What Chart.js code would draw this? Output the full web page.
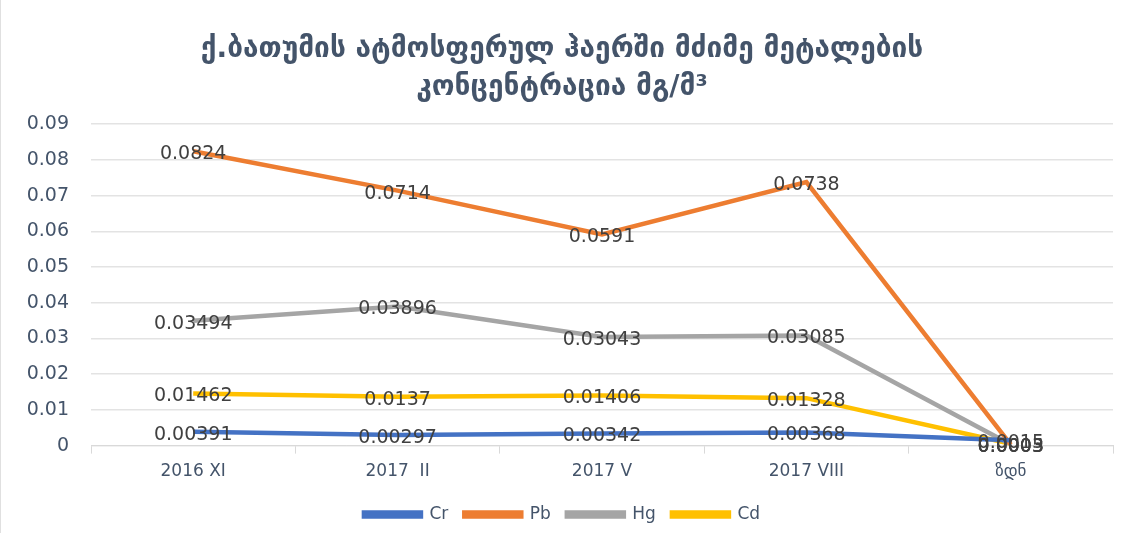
<!DOCTYPE html>
<html>
<head>
<meta charset="utf-8">
<script src="https://cdn.jsdelivr.net/npm/chart.js@4"></script>
<style>
  body { margin: 0; background: #fff; }
  #wrap { width: 1134px; height: 533px; position: relative; box-sizing: border-box; border-left: 1px solid #e0e0e0; }
</style>
</head>
<body>
<div id="wrap"><canvas id="chart" width="1134" height="533"></canvas></div>
<script>
const categories = ['2016 XI', '2017  II', '2017 V', '2017 VIII', 'ზდნ'];
const cr = [0.00391, 0.00297, 0.00342, 0.00368, 0.0015];
const pb = [0.0824, 0.0714, 0.0591, 0.0738, 0.0003];
const hg = [0.03494, 0.03896, 0.03043, 0.03085, 0.0003];
const cd = [0.01462, 0.0137, 0.01406, 0.01328, 0.0005];

const textColor = '#44546a';
const fontFam = '"DejaVu Sans", "Open Sans", sans-serif';

// data labels centered on the points
const pointLabels = {
    id: 'pointLabels',
    afterDatasetsDraw(c) {
        const ctx = c.ctx;
        ctx.save();
        ctx.font = '19px ' + fontFam;
        ctx.fillStyle = '#404040';
        ctx.textAlign = 'center';
        ctx.textBaseline = 'middle';
        c.data.datasets.forEach((ds, i) => {
            c.getDatasetMeta(i).data.forEach((pt, j) => {
                ctx.fillText(String(ds.data[j]), pt.x, pt.y + 3);
            });
        });
        ctx.restore();
    }
};

function line(label, data, color) {
    return { label: label, data: data, borderColor: color, backgroundColor: color,
        borderWidth: 4.5, pointRadius: 0, tension: 0 };
}

new Chart(document.querySelector('#chart').getContext('2d'), {
    type: 'line',
    data: {
        labels: categories,
        datasets: [
            line('Cr', cr, '#4472c4'),
            line('Pb', pb, '#ed7d31'),
            line('Hg', hg, '#a5a5a5'),
            line('Cd', cd, '#ffc000')
        ]
    },
    options: {
        responsive: false,
        animation: false,
        layout: { padding: { left: 10, right: 22, top: 10, bottom: 0 } },
        plugins: {
            title: {
                display: true,
                text: ['ქ.ბათუმის ატმოსფერულ ჰაერში მძიმე მეტალების', 'კონცენტრაცია მგ/მ³'],
                color: textColor,
                font: { family: fontFam, size: 28, weight: 'bold', lineHeight: 1.36 },
                padding: { top: 21, bottom: 17 }
            },
            legend: {
                position: 'bottom',
                labels: {
                    color: textColor,
                    font: { family: fontFam, size: 17 },
                    boxWidth: 57,
                    boxHeight: 4,
                    padding: 16
                }
            },
            tooltip: { enabled: false }
        },
        scales: {
            x: {
                offset: true,
                grid: { offset: true, drawOnChartArea: false, tickLength: 8, color: '#d9d9d9' },
                border: { color: '#d9d9d9' },
                ticks: { color: textColor, font: { family: fontFam, size: 17 }, padding: 8 }
            },
            y: {
                min: 0,
                max: 0.09,
                afterFit(s) { s.width = 80; },
                ticks: { stepSize: 0.01, color: textColor, font: { family: fontFam, size: 19 }, padding: 22 },
                grid: { color: '#e3e3e3', drawTicks: false, lineWidth: 1.5 },
                border: { display: false }
            }
        }
    },
    plugins: [pointLabels]
});
</script>
</body>
</html>
